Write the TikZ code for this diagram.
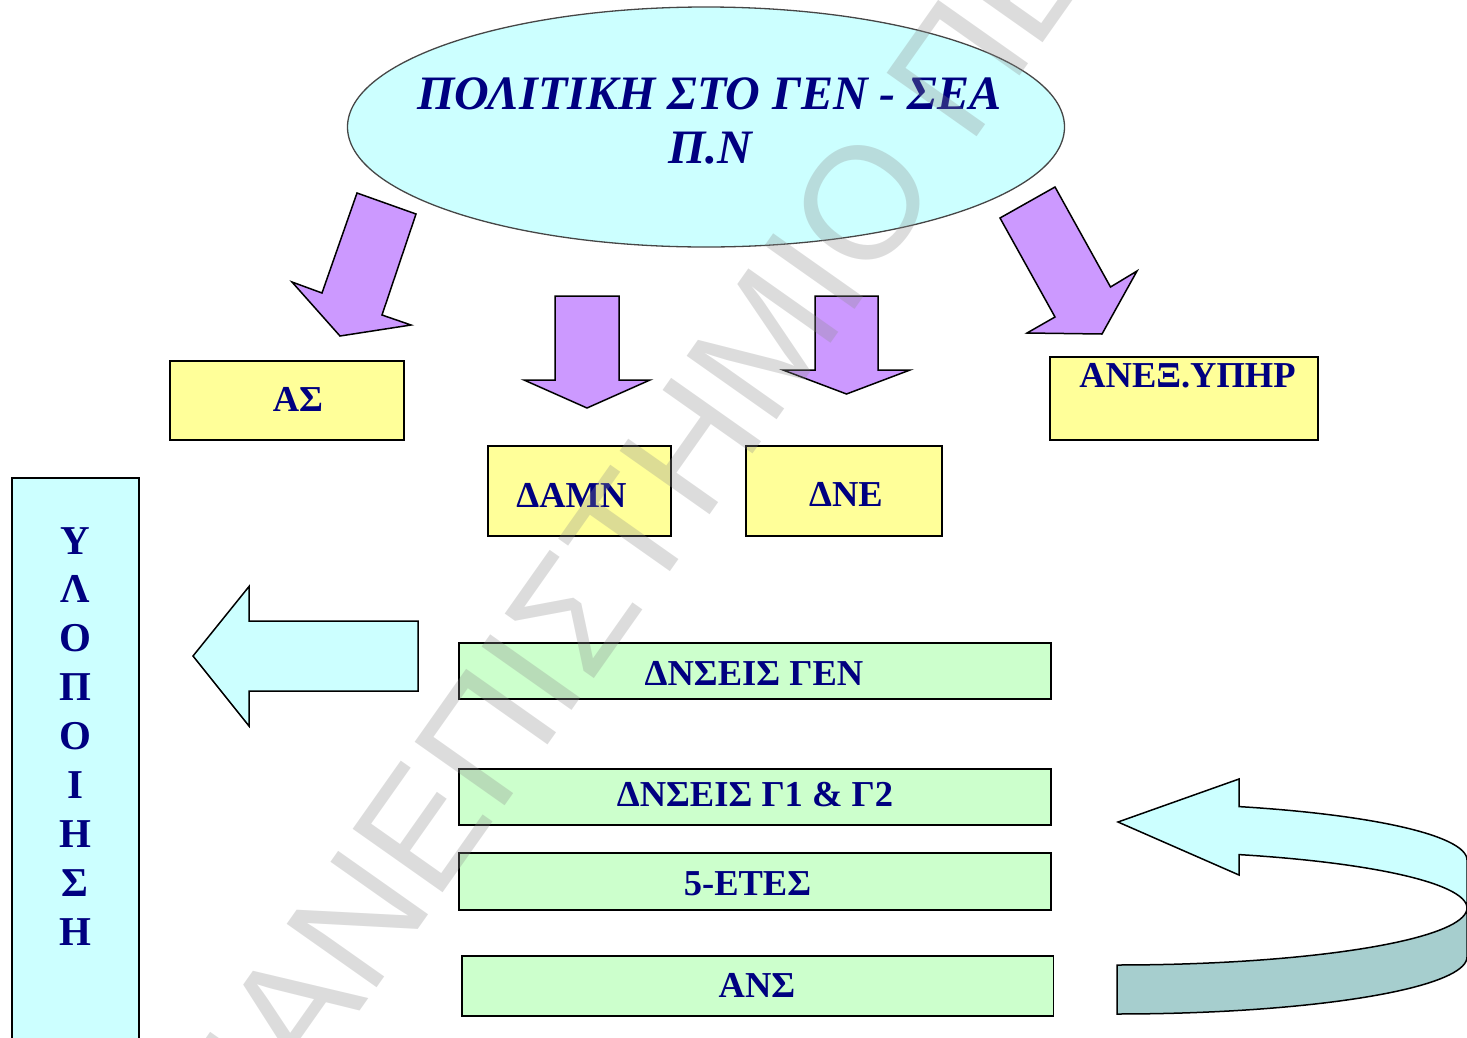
\documentclass[tikz,border=0pt]{standalone}
\usepackage{fontspec}
\setmainfont{Liberation Serif}
\newfontfamily\wmfont{Liberation Sans}
\usetikzlibrary{shapes.geometric}
\definecolor{navyT}{RGB}{0,0,128}
\definecolor{cyanF}{RGB}{204,255,255}
\definecolor{yellowF}{RGB}{255,255,153}
\definecolor{greenF}{RGB}{204,255,204}
\definecolor{purpleF}{RGB}{204,153,255}
\definecolor{tealF}{RGB}{166,206,206}
\definecolor{rimC}{RGB}{70,70,70}
\begin{document}
\begin{tikzpicture}[x=1pt,y=-1pt,
  boxbase/.style={draw=black, line width=1.8pt, inner sep=0pt, outer sep=0pt},
  ybox/.style={boxbase, fill=yellowF},
  gbox/.style={boxbase, fill=greenF, minimum width=592pt},
  cbox/.style={boxbase, fill=cyanF},
  tx/.style={text=navyT, font=\fontsize{36.5}{40}\selectfont\bfseries, inner sep=0pt, anchor=base},
  vt/.style={text=navyT, font=\fontsize{41}{45}\selectfont\bfseries, inner sep=0pt, anchor=base},
  ttl/.style={text=navyT, font=\fontsize{48}{52}\selectfont\bfseries\itshape, inner sep=0pt, anchor=base},
  parrow/.style={draw=black, line width=1.5pt, fill=purpleF, line join=miter},
  carrow/.style={draw=black, line width=1.5pt, fill=cyanF, line join=miter},
  tarrow/.style={draw=black, line width=1.5pt, fill=tealF, line join=miter},
  wm/.style={text=black!45, opacity=0.3, font=\wmfont\fontsize{160}{160}\selectfont, inner sep=0pt}
]
\clip (0,0) rectangle (1467,1037);

% title ellipse
\node[shape=ellipse, draw=rimC, line width=1.3pt, fill=cyanF, minimum width=717pt, minimum height=240pt, inner sep=0pt, outer sep=0pt] (policy) at (706,127) {};
\node[ttl] (t1) at (709.5,109) {ΠΟΛΙΤΙΚΗ ΣΤΟ ΓΕΝ - ΣΕΑ};
\node[ttl] (t2) at (710.5,163) {Π.Ν};

% purple block arrows
\draw[parrow] (357,193) -- (416,214) -- (382,315) -- (411,325) -- (340,336) -- (292,282) -- (322,293) -- cycle;
\draw[parrow] (555,296) -- (619,296) -- (619,380) -- (650,380) -- (587,408) -- (524,380) -- (555,380) -- cycle;
\draw[parrow] (815,296) -- (878,296) -- (878,370) -- (910,370) -- (846.5,394) -- (783,370) -- (815,370) -- cycle;
\draw[parrow] (1000,218) -- (1055,187) -- (1110.5,287) -- (1137,271) -- (1102,334) -- (1027,333) -- (1055,317) -- cycle;

% yellow boxes
\node[ybox, minimum width=234pt, minimum height=79pt] (as) at (287,400.5) {};
\node[ybox, minimum width=183pt, minimum height=90pt] (damn) at (579.5,491) {};
\node[ybox, minimum width=196pt, minimum height=90pt] (dne) at (844,491) {};
\node[ybox, minimum width=268pt, minimum height=83pt] (anex) at (1184,398.5) {};
\node[tx] (tas) at (298,411) {ΑΣ};
\node[tx] (tdamn) at (571.5,507) {ΔΑΜΝ};
\node[tx] (tdne) at (846,506) {ΔΝΕ};
\node[tx] (tanex) at (1187.5,387) {ΑΝΕΞ.ΥΠΗΡ};

% green boxes
\node[gbox, minimum height=56pt] (g1) at (755,671) {};
\node[gbox, minimum height=56pt] (g2) at (755,797) {};
\node[gbox, minimum height=57pt] (g3) at (755,881.5) {};
\node[gbox, minimum width=591.5pt, minimum height=60pt] (g4) at (757.75,986) {};
\node[tx] (tg1) at (754,685) {ΔΝΣΕΙΣ ΓΕΝ};
\node[tx] (tg2) at (755,806) {ΔΝΣΕΙΣ Γ1 \& Γ2};
\node[tx] (tg3) at (747.5,895) {5-ΕΤΕΣ};
\node[tx] (tg4) at (757,997) {ΑΝΣ};

% vertical box
\node[cbox, minimum width=126.4pt, minimum height=580pt] (impl) at (75.5,768) {};
\foreach \ch [count=\i] in {Υ,Λ,Ο,Π,Ο,Ι,Η,Σ,Η}
  \node[vt] (v\i) at (75,{554+48.9*(\i-1)}) {\ch};

% left cyan arrow
\draw[carrow] (418,621) -- (249,621) -- (249,586.5) -- (193,656) -- (249,726) -- (249,691) -- (418,691) -- cycle;

% curved arrow (bottom right)
\draw[tarrow] (1117,965) -- plot[domain=90:0, samples=40] ({1117+350*cos(\x)},{908+57*sin(\x)})
   -- plot[domain=0:90, samples=40] ({1117+350*cos(\x)},{957+57*sin(\x)}) -- cycle;
\draw[carrow] (1118,822) -- (1239,779) -- plot[domain=-69.6:0, samples=40] ({1117+350*cos(\x)},{860+57*sin(\x)})
   -- plot[domain=0:-69.6, samples=40] ({1117+350*cos(\x)},{908+57*sin(\x)}) -- (1239,875) -- cycle;

% watermark
\node[wm, rotate=54.8, anchor=base west] (wmark) at (241,1180) {ΠΑΝΕΠΙΣΤΗΜΙΟ ΠΕ};
\end{tikzpicture}
\end{document}
